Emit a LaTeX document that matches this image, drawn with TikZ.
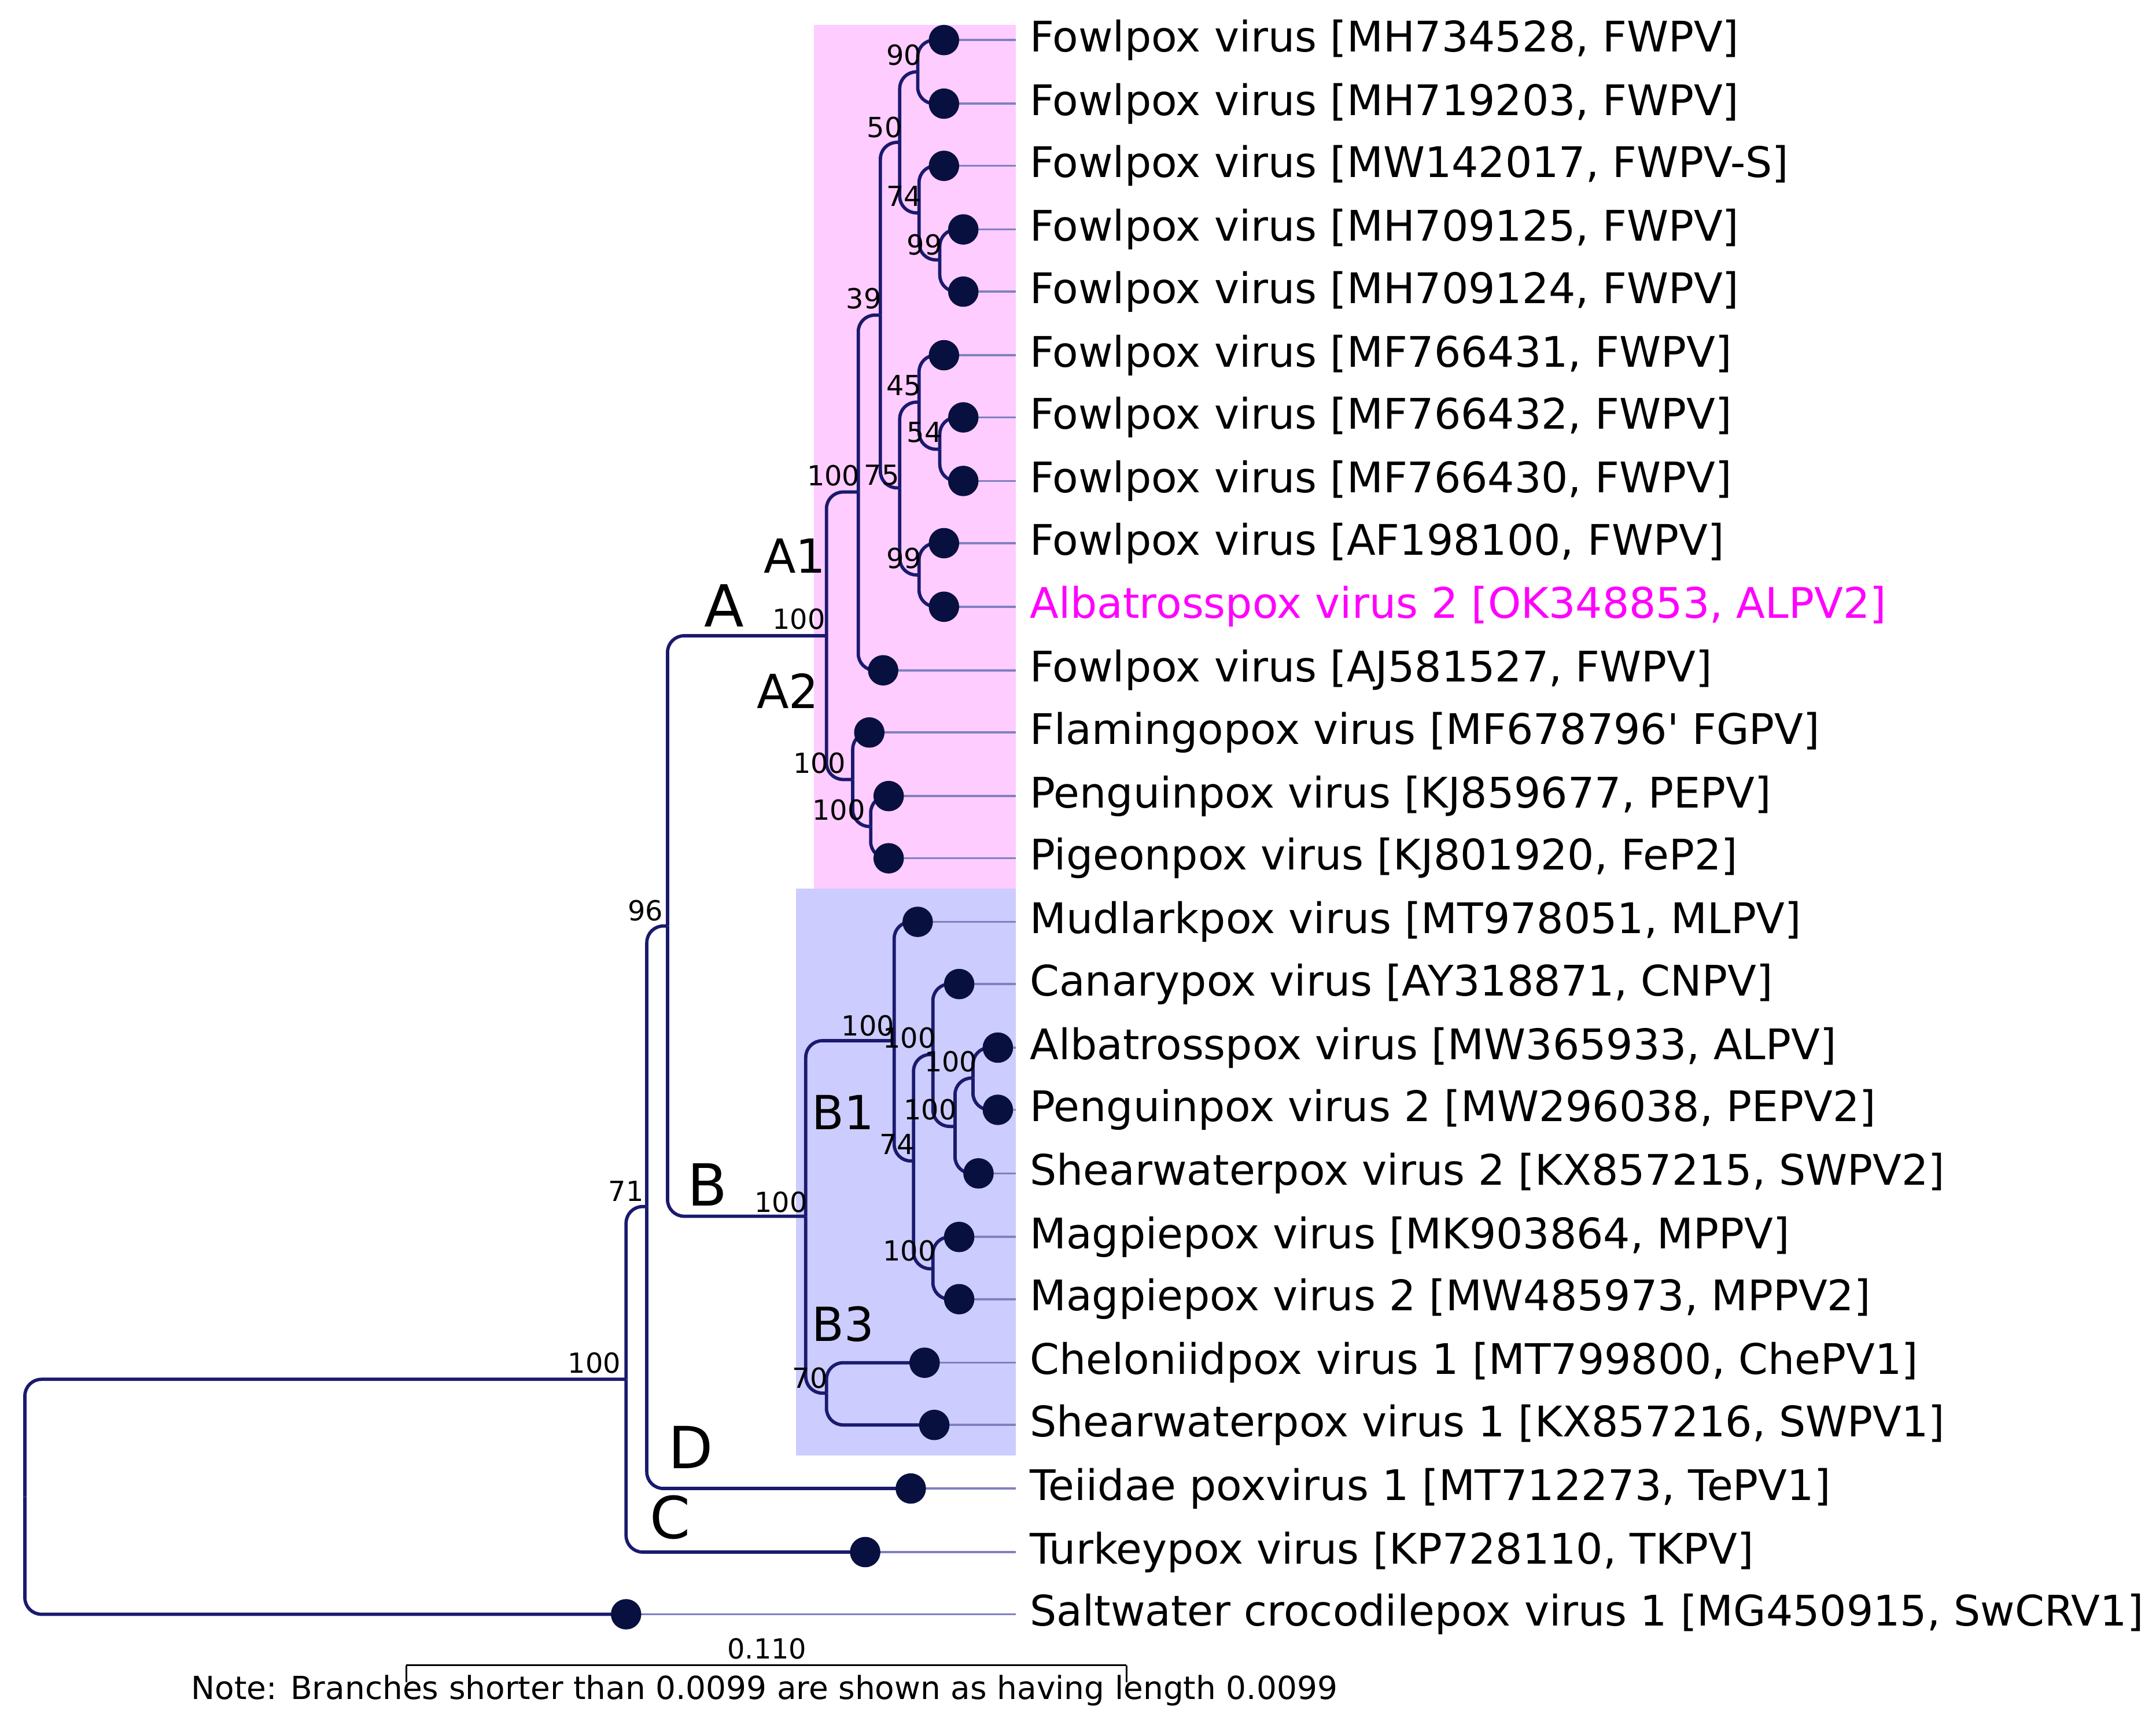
\documentclass[tikz,border=0pt]{standalone}
\usepackage{fontspec}
\setmainfont{DejaVu Sans}
\definecolor{branch}{RGB}{26,26,110}
\definecolor{dotc}{RGB}{8,16,64}
\definecolor{tipc}{RGB}{128,128,192}
\definecolor{pinkbox}{RGB}{255,204,255}
\definecolor{bluebox}{RGB}{204,204,255}
\definecolor{hilite}{RGB}{255,0,255}
\tikzset{
  br/.style={branch, line width=2.4pt, rounded corners=12pt},
  tip/.style={tipc, line width=1.5pt},
  dot/.style={circle, fill=dotc, minimum size=22pt, inner sep=0pt},
  leaf/.style={anchor=west, inner sep=0pt, font=\fontsize{30.5}{30.5}\selectfont},
  boot/.style={font=\fontsize{20}{20}\selectfont, inner sep=1pt},
  clade/.style={font=\fontsize{34}{34}\selectfont, inner sep=0pt},
}
\begin{document}
\begin{tikzpicture}[x=1pt, y=-1pt]
\useasboundingbox (0,0) rectangle (1560,1245);
% clade boxes
\fill[pinkbox] (589,18) rectangle (735,643);
\fill[bluebox] (576,643) rectangle (735,1053);
% internal nodes
\coordinate (a) at (664,52);
\coordinate (b) at (680,188);
\coordinate (c) at (665,154);
\coordinate (d) at (651,103);
\coordinate (e) at (680,325);
\coordinate (f) at (665,291);
\coordinate (g) at (665,416);
\coordinate (h) at (651,353);
\coordinate (i) at (637,228);
\coordinate (j) at (621,356);
\coordinate (k) at (630,598);
\coordinate (l) at (617,564);
\coordinate (cA) at (598,460);
\coordinate (m) at (704,780);
\coordinate (n) at (691,815);
\coordinate (o) at (675,763);
\coordinate (p) at (675,918);
\coordinate (q) at (661,840);
\coordinate (r) at (647,753);
\coordinate (s) at (598,1008);
\coordinate (cB) at (583,880);
\coordinate (ab) at (483,670);
\coordinate (cD) at (468,873);
\coordinate (cC) at (453,998);
\coordinate (root) at (18,1083);
% leaves
\foreach \n/\x/\y/\col/\lab in {
  1/683/29/black/{Fowlpox virus [MH734528, FWPV]},
  2/683/75/black/{Fowlpox virus [MH719203, FWPV]},
  3/683/120/black/{Fowlpox virus [MW142017, FWPV-S]},
  4/697/166/black/{Fowlpox virus [MH709125, FWPV]},
  5/697/211/black/{Fowlpox virus [MH709124, FWPV]},
  6/683/257/black/{Fowlpox virus [MF766431, FWPV]},
  7/697/302/black/{Fowlpox virus [MF766432, FWPV]},
  8/697/348/black/{Fowlpox virus [MF766430, FWPV]},
  9/683/393/black/{Fowlpox virus [AF198100, FWPV]},
  10/683/439/hilite/{Albatrosspox virus 2 [OK348853, ALPV2]},
  11/639/485/black/{Fowlpox virus [AJ581527, FWPV]},
  12/629/530/black/{Flamingopox virus [MF678796\textquotesingle\ FGPV]},
  13/643/576/black/{Penguinpox virus [KJ859677, PEPV]},
  14/643/621/black/{Pigeonpox virus [KJ801920, FeP2]},
  15/664/667/black/{Mudlarkpox virus [MT978051, MLPV]},
  16/694/712/black/{Canarypox virus [AY318871, CNPV]},
  17/722/758/black/{Albatrosspox virus [MW365933, ALPV]},
  18/722/803/black/{Penguinpox virus 2 [MW296038, PEPV2]},
  19/708/849/black/{Shearwaterpox virus 2 [KX857215, SWPV2]},
  20/694/895/black/{Magpiepox virus [MK903864, MPPV]},
  21/694/940/black/{Magpiepox virus 2 [MW485973, MPPV2]},
  22/669/986/black/{Cheloniidpox virus 1 [MT799800, ChePV1]},
  23/676/1031/black/{Shearwaterpox virus 1 [KX857216, SWPV1]},
  24/659/1077/black/{Teiidae poxvirus 1 [MT712273, TePV1]},
  25/626/1123/black/{Turkeypox virus [KP728110, TKPV]},
  26/453/1168/black/{Saltwater crocodilepox virus 1 [MG450915, SwCRV1]}} {
  \coordinate (l\n) at (\x,\y);
  \coordinate (t\n) at (735,\y);
  \node[leaf, text=\col] (name\n) at (745,\y) {\lab};
  \draw[tip] (l\n) -- (t\n);
}
% branches
\foreach \p/\c in {a/l1, a/l2, b/l4, b/l5, c/l3, c/b, d/a, d/c,
  e/l7, e/l8, f/l6, f/e, g/l9, g/l10, h/f, h/g, i/d, i/h, j/i, j/l11,
  k/l13, k/l14, l/l12, l/k, cA/j, cA/l,
  m/l17, m/l18, n/m, n/l19, o/l16, o/n, p/l20, p/l21, q/o, q/p,
  r/l15, r/q, s/l22, s/l23, cB/r, cB/s,
  ab/cA, ab/cB, cD/ab, cD/l24, cC/cD, cC/l25, root/cC, root/l26}
  \draw[br] (\p) |- (\c);
\foreach \n in {1,...,26}
  \node[dot] (d\n) at (l\n) {};
% bootstrap values
\foreach \x/\y/\v in {654/40/90, 669/177/99, 654/142/74, 640/92/50,
  669/313/54, 654/279/45, 654/404/99, 638/344/75, 603/344/100, 625/216/39,
  607/586/100, 593/552/100, 578/448/100,
  688/768/100, 673/803/100, 658/751/100, 658/905/100, 649/828/74,
  628/742/100, 586/997/70, 565/870/100, 467/659/96, 453/862/71, 430/986/100}
  \node[boot] at (\x,\y) {\v};
% clade letters
\node[clade, font=\fontsize{42}{42}\selectfont] (labA) at (524,438) {A};
\node[clade] (labA1) at (575,402) {A1};
\node[clade] (labA2) at (570,500) {A2};
\node[clade, font=\fontsize{42}{42}\selectfont] (labB) at (512,857) {B};
\node[clade] (labB1) at (610,805) {B1};
\node[clade] (labB3) at (610,958) {B3};
\node[clade, font=\fontsize{42}{42}\selectfont] (labD) at (500,1047) {D};
\node[clade, font=\fontsize{42}{42}\selectfont] (labC) at (485,1098) {C};
% scale bar
\coordinate (sb1) at (294,1205);
\coordinate (sb2) at (815,1205);
\draw[black, line width=1.2pt] (sb1) -- (sb2);
\draw[black, line width=1.2pt] (sb1) -- ++(0,12) (sb2) -- ++(0,12);
\node[boot] (sbl) at (555,1193) {0.110};
\node[font=\fontsize{23}{23}\selectfont, inner sep=0pt] (note) at (553,1223)
  {Note: Branches shorter than 0.0099 are shown as having length 0.0099};
\end{tikzpicture}
\end{document}
